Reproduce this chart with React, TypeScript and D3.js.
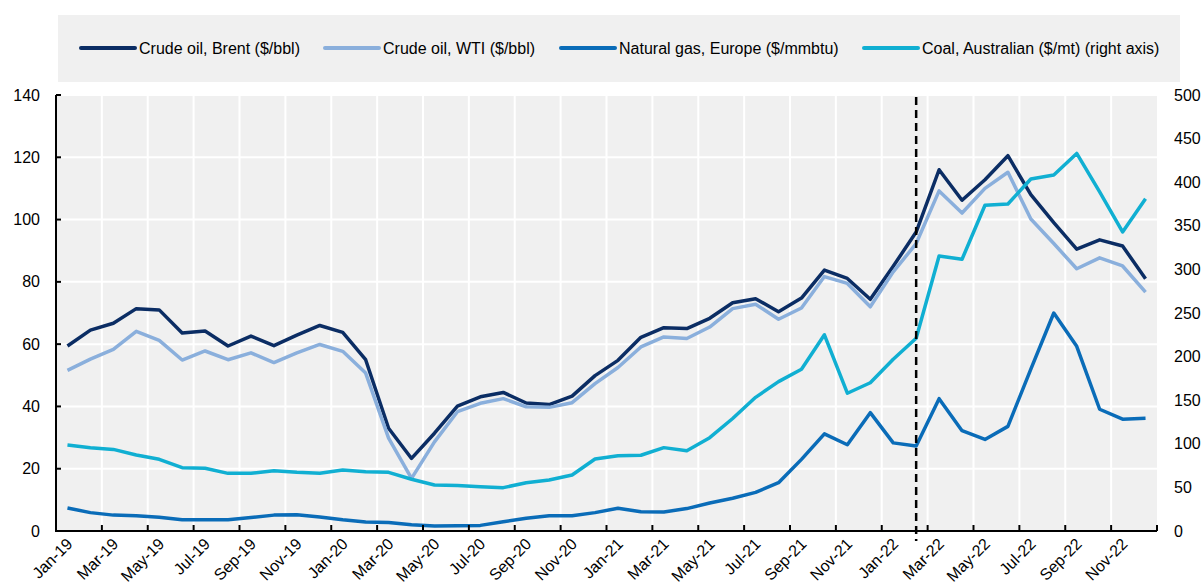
import React from "react";
import * as d3 from "d3";

const months: string[] = [];
const monthNames = ["Jan", "Feb", "Mar", "Apr", "May", "Jun", "Jul", "Aug", "Sep", "Oct", "Nov", "Dec"];
for (const yr of ["19", "20", "21", "22"]) for (const m of monthNames) months.push(`${m}-${yr}`);

const brent = [59.4, 64.5, 66.7, 71.4, 71.0, 63.6, 64.2, 59.4, 62.6, 59.5, 62.9, 66.0, 63.8, 55.0, 33.0, 23.3, 31.4, 40.1, 43.1, 44.5, 41.1, 40.6, 43.3, 49.9, 54.8, 62.2, 65.3, 65.0, 68.3, 73.3, 74.6, 70.4, 74.8, 83.8, 81.1, 74.4, 85.0, 96.0, 116.0, 106.2, 112.8, 120.5, 108.0, 99.0, 90.5, 93.5, 91.5, 81.0];
const wti = [51.6, 55.2, 58.3, 64.1, 61.2, 54.9, 57.8, 55.0, 57.2, 54.1, 57.2, 59.9, 57.7, 50.7, 29.8, 16.9, 28.6, 38.3, 41.0, 42.5, 39.9, 39.7, 41.2, 47.3, 52.5, 59.1, 62.3, 61.8, 65.5, 71.4, 72.8, 68.0, 71.6, 81.7, 79.5, 72.0, 83.2, 92.3, 109.2, 102.1, 110.0, 115.2, 100.2, 92.3, 84.2, 87.7, 85.1, 76.7];
const gas = [7.4, 5.9, 5.1, 4.9, 4.4, 3.6, 3.6, 3.6, 4.3, 5.1, 5.2, 4.5, 3.6, 2.9, 2.7, 2.0, 1.6, 1.7, 1.8, 3.0, 4.1, 4.9, 4.9, 5.9, 7.3, 6.2, 6.1, 7.2, 9.0, 10.5, 12.4, 15.5, 23.0, 31.2, 27.7, 38.0, 28.3, 27.3, 42.5, 32.2, 29.4, 33.6, 52.0, 70.0, 59.3, 39.1, 35.9, 36.2];
const coal = [98.6, 95.6, 93.6, 87.2, 82.2, 72.6, 71.9, 66.1, 66.1, 69.2, 67.3, 66.3, 70.0, 68.0, 67.3, 59.3, 52.8, 52.2, 50.8, 49.7, 55.4, 58.5, 64.2, 82.6, 86.4, 86.9, 95.6, 92.1, 107.0, 129.0, 153.3, 171.3, 185.5, 225.0, 158.0, 170.0, 196.9, 221.0, 315.4, 311.6, 373.5, 375.0, 403.7, 408.3, 433.0, 389.0, 342.9, 381.0];

const leftTicks = [0, 20, 40, 60, 80, 100, 120, 140];
const rightTicks = [0, 50, 100, 150, 200, 250, 300, 350, 400, 450, 500];
const eventMonth = "Feb-22";

const seriesNames = [
  "Crude oil, Brent ($/bbl)",
  "Crude oil, WTI ($/bbl)",
  "Natural gas, Europe ($/mmbtu)",
  "Coal, Australian ($/mt) (right axis)",
];
const colors = ["#0b2d64", "#8aafdc", "#0a6cb8", "#10afd2"];

export default function App() {
  const W = 1203, H = 586;
  const L = 56, R = 1157, T = 95, B = 531;
  const x = d3.scaleBand<string>().domain(months).range([L, R]).paddingInner(0).paddingOuter(0);
  const yL = d3.scaleLinear().domain([0, 140]).range([B, T]);
  const yR = d3.scaleLinear().domain([0, 500]).range([B, T]);
  const cx = (m: string) => (x(m) as number) + x.bandwidth() / 2;

  const lineL = d3.line<number>().x((_, i) => cx(months[i])).y((d) => yL(d));
  const lineR = d3.line<number>().x((_, i) => cx(months[i])).y((d) => yR(d));

  const tickIdx = d3.range(0, months.length + 1, 2);
  const tickX = (i: number) => (i < months.length ? (x(months[i]) as number) : R);

  const series = [
    { d: lineL(brent), c: colors[0] },
    { d: lineL(wti), c: colors[1] },
    { d: lineL(gas), c: colors[2] },
    { d: lineR(coal), c: colors[3] },
  ];

  const legendItems = [
    { lx: 81, tx: 139 },
    { lx: 325, tx: 383 },
    { lx: 561, tx: 619 },
    { lx: 864, tx: 922 },
  ];

  const font = "'Liberation Sans', Arial, sans-serif";

  return (
    <div style={{ position: "absolute", left: 0, top: 0 }}>
      <svg width={W} height={H} style={{ display: "block", fontFamily: font }}>
        <rect x={0} y={0} width={W} height={H} fill="#ffffff" />
        {/* legend */}
        <rect x={58} y={15} width={1122} height={67} fill="#f0f0f0" />
        {legendItems.map((it, i) => (
          <g key={i}>
            <line x1={it.lx} x2={it.lx + 54} y1={48} y2={48} stroke={colors[i]} strokeWidth={4} strokeLinecap="round" />
            <text x={it.tx} y={53.5} fontSize={16} fill="#000">{seriesNames[i]}</text>
          </g>
        ))}
        {/* plot background */}
        <rect x={L} y={T} width={R - L} height={B - T} fill="#f0f0f0" />
        {/* grid */}
        {tickIdx.slice(1, -1).map((i) => (
          <line key={"vg" + i} x1={tickX(i)} x2={tickX(i)} y1={T} y2={B} stroke="#fff" strokeWidth={2} />
        ))}
        {leftTicks.slice(1).map((t) => (
          <line key={"hg" + t} x1={L} x2={R} y1={yL(t)} y2={yL(t)} stroke="#fff" strokeWidth={2} />
        ))}
        {/* series */}
        {series.map((s, i) => (
          <path key={i} d={s.d || ""} fill="none" stroke={s.c} strokeWidth={3.5} strokeLinejoin="round" />
        ))}
        {/* event line */}
        <line x1={cx(eventMonth)} x2={cx(eventMonth)} y1={97} y2={541} stroke="#000" strokeWidth={2.5} strokeDasharray="8,5" />
        {/* axes */}
        <line x1={L} x2={L} y1={T} y2={B + 1} stroke="#000" strokeWidth={2} />
        <line x1={L - 1} x2={R} y1={B} y2={B} stroke="#000" strokeWidth={2} />
        {leftTicks.map((t) => (
          <g key={"lt" + t}>
            <line x1={L} x2={L + 5} y1={yL(t)} y2={yL(t)} stroke="#000" strokeWidth={2} />
            <text x={40} y={yL(t) + 5.5} fontSize={16} textAnchor="end" fill="#000">{t}</text>
          </g>
        ))}
        {rightTicks.map((t) => (
          <text key={"rt" + t} x={1174} y={yR(t) + 5.5} fontSize={16} textAnchor="start" fill="#000">{t}</text>
        ))}
        {tickIdx.map((i) => (
          <line key={"xt" + i} x1={tickX(i)} x2={tickX(i)} y1={B} y2={B - 6} stroke="#000" strokeWidth={2} />
        ))}
        {months.filter((_, i) => i % 2 === 0).map((m) => (
          <text key={"xl" + m} transform={`translate(${cx(m) + 6},${B + 14}) rotate(-45)`} fontSize={16} textAnchor="end" fill="#000">{m}</text>
        ))}
      </svg>
    </div>
  );
}
